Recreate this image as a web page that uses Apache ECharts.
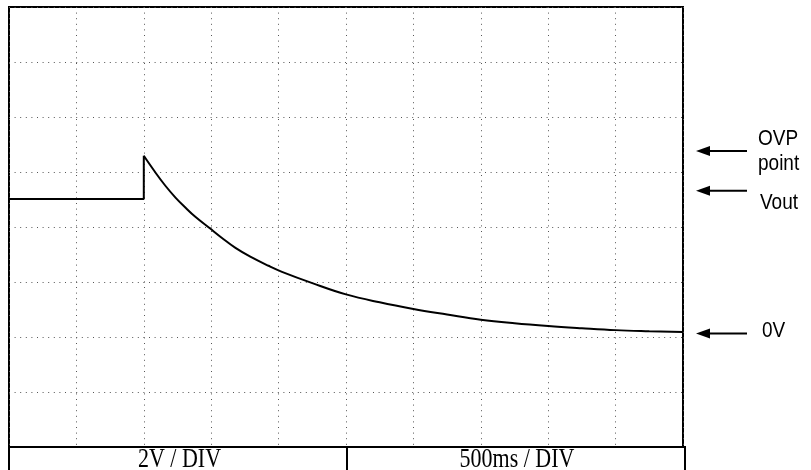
<!DOCTYPE html>
<html>
<head>
<meta charset="utf-8">
<script src="https://cdn.jsdelivr.net/npm/echarts@6/dist/echarts.min.js"></script>
<style>
html,body{margin:0;padding:0;background:#fff;}
#chart{width:811px;height:470px;}
</style>
</head>
<body>
<div id="chart"></div>
<script>
// Time (ms) and voltage (V, 2 V/div, measured from bottom of screen)
var timeMs  = [0, 1000, 1000, 1085, 1160, 1235, 1310, 1380, 1485, 1580, 1680, 1790, 1925, 2025, 2250, 2500, 2750, 3000, 3250, 3500, 3750, 4000, 4250, 4500, 4750, 5000];
var voltage = [9.02, 9.02, 10.59, 9.99, 9.50, 9.07, 8.70, 8.38, 7.97, 7.60, 7.24, 6.92, 6.59, 6.37, 5.96, 5.55, 5.26, 5.02, 4.82, 4.63, 4.50, 4.40, 4.32, 4.25, 4.21, 4.18];

// Annotation markers (levels in V)
var markerLabels = ['OVP point', 'Vout', '0V'];
var markerLevels = [10.76, 9.32, 4.13];

// Bottom info row
var scaleLabels = ['2V / DIV', '500ms / DIV'];

var chart = echarts.init(document.getElementById('chart'), null, {renderer: 'canvas'});

var allData = timeMs.map(function (t, i) { return [t, voltage[i]]; });
var stepData = allData.slice(0, 3);   // flat level + step up
var decayData = allData.slice(2);     // exponential-like decay

var dotted = {color: '#555', width: 1, type: [1, 4.6]};

chart.setOption({
  animation: false,
  backgroundColor: '#fff',
  grid: {left: 9, top: 7, width: 674, height: 440, show: true, borderColor: '#000', borderWidth: 2, backgroundColor: 'transparent'},
  xAxis: {
    type: 'value', min: 0, max: 5000, interval: 500,
    axisLine: {show: false}, axisTick: {show: false}, axisLabel: {show: false},
    splitLine: {show: true, lineStyle: dotted}
  },
  yAxis: {
    type: 'value', min: 0, max: 16, interval: 2,
    axisLine: {show: false}, axisTick: {show: false}, axisLabel: {show: false},
    splitLine: {show: true, lineStyle: dotted}
  },
  series: [{
    type: 'line', data: stepData, showSymbol: false, symbol: 'none',
    lineStyle: {color: '#000', width: 2}, z: 5
  }, {
    type: 'line', data: decayData, showSymbol: false, symbol: 'none', smooth: 0.4,
    lineStyle: {color: '#000', width: 2}, z: 5
  }]
});

// Build annotation graphics from the axis scale
var graphics = [];
var ovpY = chart.convertToPixel({gridIndex: 0}, [0, markerLevels[0]])[1];
var voutY = chart.convertToPixel({gridIndex: 0}, [0, markerLevels[1]])[1];
var zeroY = chart.convertToPixel({gridIndex: 0}, [0, markerLevels[2]])[1];

function arrow(y) {
  graphics.push({type: 'line', shape: {x1: 705, y1: y, x2: 747, y2: y}, style: {stroke: '#000', lineWidth: 2}, z: 10});
  graphics.push({type: 'polygon', shape: {points: [[696, y], [710, y - 5], [710, y + 5]]}, style: {fill: '#000'}, z: 10});
}
arrow(ovpY); arrow(voutY); arrow(zeroY);

function label(text, x, y, font, align, sy) {
  graphics.push({
    type: 'text', x: x, y: y, scaleY: sy, z: 10,
    style: {text: text, font: font, fill: '#000', align: align, verticalAlign: 'middle'}
  });
}
var sansFont = '19px "Liberation Sans", Arial, sans-serif';
var ovpParts = markerLabels[0].split(' ');
label(ovpParts[0], 758, ovpY - 12, sansFont, 'left', 1.15);
label(ovpParts[1], 758, ovpY + 13, sansFont, 'left', 1.15);
label(markerLabels[1], 760, voutY + 12.5, sansFont, 'left', 1.15);
label(markerLabels[2], 762, zeroY - 2.5, sansFont, 'left', 1.15);

// Bottom info row box
var bottomTop = 447;
graphics.push({type: 'line', shape: {x1: 9, y1: bottomTop, x2: 9, y2: 472}, style: {stroke: '#000', lineWidth: 2}, z: 10});
graphics.push({type: 'line', shape: {x1: 347, y1: bottomTop, x2: 347, y2: 472}, style: {stroke: '#000', lineWidth: 2}, z: 10});
graphics.push({type: 'line', shape: {x1: 685, y1: bottomTop - 1, x2: 685, y2: 472}, style: {stroke: '#000', lineWidth: 2}, z: 10});
graphics.push({type: 'line', shape: {x1: 9, y1: bottomTop, x2: 685, y2: bottomTop}, style: {stroke: '#000', lineWidth: 2}, z: 10});
var serifFont = '22px "Liberation Serif", "Times New Roman", serif';
label(scaleLabels[0], 179.5, 460, serifFont, 'center', 1.2);
label(scaleLabels[1], 517, 460, serifFont, 'center', 1.2);

chart.setOption({graphic: graphics});
</script>
</body>
</html>
